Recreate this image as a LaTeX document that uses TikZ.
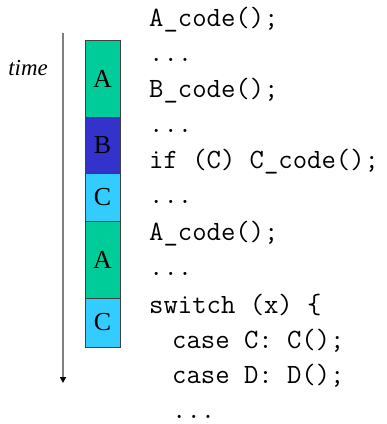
\documentclass[tikz,border=0pt]{standalone}
\usepackage{fontspec}
\newfontfamily\serifrm{Liberation Serif}
\usetikzlibrary{arrows.meta}
\definecolor{agreen}{HTML}{00CC99}
\definecolor{bblue}{HTML}{3333CC}
\definecolor{ccyan}{HTML}{33CCFF}
\begin{document}
\begin{tikzpicture}[x=1bp,y=-1bp,
  seg/.style={draw=black!75,line width=0.8bp,minimum width=35bp,inner sep=0pt,font=\serifrm\fontsize{26}{26}\selectfont},
  code/.style={anchor=base west,inner sep=0pt,font=\ttfamily\fontsize{28}{28}\selectfont}]
\useasboundingbox (0,0) rectangle (387,424);
% time arrow
\coordinate (ts) at (63,33);
\coordinate (te) at (63,383);
\draw[black!50,line width=1.5bp,-{Triangle[black,length=6bp,width=6bp]}] (ts) -- (te);
\node[anchor=base,inner sep=0pt,font=\serifrm\itshape\fontsize{23}{23}\selectfont] (time) at (28,75) {time};
% segments
\node[seg,fill=agreen,minimum height=77bp] (a1) at (102.5,78.5) {A};
\node[seg,fill=bblue,minimum height=56bp] (b1) at (102.5,145) {B};
\node[seg,fill=ccyan,minimum height=48bp] (c1) at (102.5,197) {C};
\node[seg,fill=agreen,minimum height=77bp] (a2) at (102.5,259.5) {A};
\node[seg,fill=ccyan,minimum height=49bp] (c2) at (102.5,322.5) {C};
% code
\node[code] (l1) at (149,26) {A\_code();};
\node[code] (l2) at (149,61) {...};
\node[code] (l3) at (149,97) {B\_code();};
\node[code] (l4) at (149,132) {...};
\node[code] (l5) at (149,168) {if (C) C\_code();};
\node[code] (l6) at (149,203) {...};
\node[code] (l7) at (149,240) {A\_code();};
\node[code] (l8) at (149,275) {...};
\node[code] (l9) at (149,313) {switch (x) \{};
\node[code] (l10) at (172,348) {case C: C();};
\node[code] (l11) at (172,383) {case D: D();};
\node[code] (l12) at (172,418) {...};
\end{tikzpicture}
\end{document}
